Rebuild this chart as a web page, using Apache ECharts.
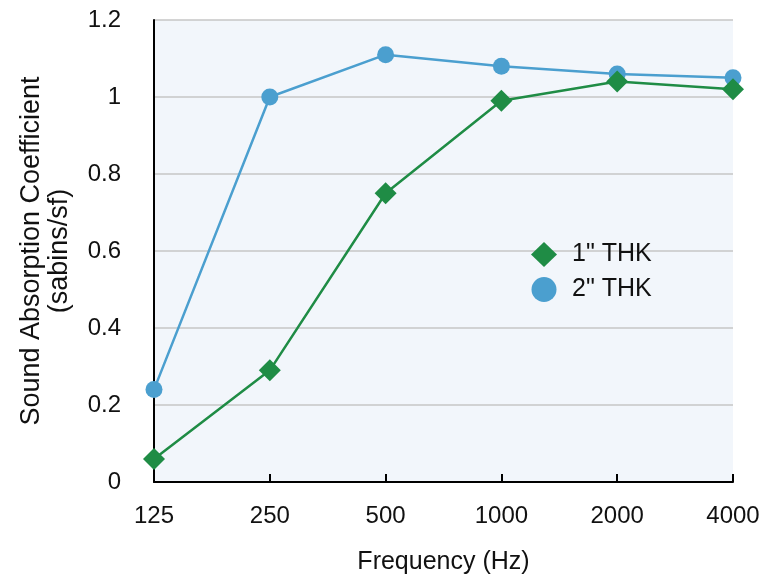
<!DOCTYPE html>
<html><head><meta charset="utf-8">
<script src="https://cdn.jsdelivr.net/npm/echarts@6/dist/echarts.min.js"></script>
<style>html,body{margin:0;padding:0;background:#fff}#c{width:774px;height:580px}</style>
</head><body><div id="c"></div>
<script>
const categories = ['125','250','500','1000','2000','4000'];
const thk1 = [0.06, 0.29, 0.75, 0.99, 1.04, 1.02];
const thk2 = [0.24, 1.00, 1.11, 1.08, 1.06, 1.05];
const seriesNames = ['1" THK', '2" THK'];
const font = 'Helvetica, Arial, "Liberation Sans", sans-serif';
const chart = echarts.init(document.getElementById('c'));
chart.setOption({
  animation: false,
  grid: {left:154, right:41, top:20, bottom:95, show:true, backgroundColor:'#f2f6fb', borderWidth:0},
  legend: {
    orient:'vertical', left:526, top:237, itemGap:10, itemWidth:26, itemHeight:25,
    textStyle:{fontFamily:font, fontSize:25, color:'#111', padding:[0,0,0,10]},
    data:[{name:seriesNames[0], icon:'diamond'},{name:seriesNames[1], icon:'circle'}]
  },
  xAxis: {
    type:'category', data:categories, boundaryGap:false,
    name:'Frequency (Hz)', nameLocation:'middle', nameGap:68,
    nameTextStyle:{fontFamily:font, fontSize:25, color:'#111'},
    axisLine:{lineStyle:{color:'#000', width:2}},
    axisTick:{show:true, inside:true, length:8, lineStyle:{color:'#000', width:2}},
    axisLabel:{fontFamily:font, fontSize:24, color:'#111', margin:22},
    splitLine:{show:false}
  },
  yAxis: {
    type:'value', min:0, max:1.2, interval:0.2,
    name:'Sound Absorption Coefficient\n(sabins/sf)', nameLocation:'middle', nameGap:80, nameRotate:90,
    nameTextStyle:{fontFamily:font, fontSize:27, color:'#111', lineHeight:28},
    axisLine:{show:true, lineStyle:{color:'#000', width:2}},
    axisTick:{show:false},
    axisLabel:{fontFamily:font, fontSize:24, color:'#111', margin:33},
    splitLine:{lineStyle:{color:'#c6c6c6', width:1.5}}
  },
  series: [
    {name:seriesNames[0], type:'line', data:thk1, symbol:'diamond', symbolSize:22,
     itemStyle:{color:'#1f8c45'}, lineStyle:{color:'#1f8c45', width:2.5}, z:3},
    {name:seriesNames[1], type:'line', data:thk2, symbol:'circle', symbolSize:17,
     itemStyle:{color:'#4b9fcf'}, lineStyle:{color:'#4b9fcf', width:2.5}, z:2}
  ]
});
</script></body></html>
